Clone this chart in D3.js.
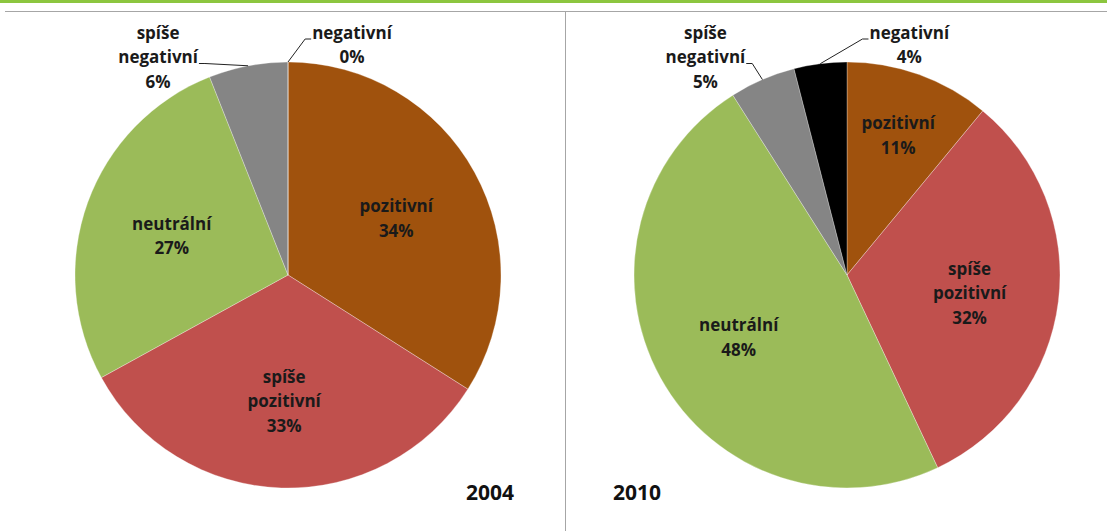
<!DOCTYPE html>
<html>
<head>
<meta charset="utf-8">
<script src="https://cdn.jsdelivr.net/npm/d3@7"></script>
<style>
  body { margin: 0; background: #fff; }
  svg { display: block; }
  .lbl { font-family: "Open Sans", Lato, sans-serif; font-weight: bold; font-size: 17px; fill: #1a1a1a; }
  .year { font-family: "Open Sans", Lato, sans-serif; font-weight: bold; font-size: 21px; fill: #111; }
</style>
</head>
<body>
<svg id="chart"></svg>
<script>
// data
let categories = ['pozitivní', 'spíše pozitivní', 'neutrální', 'spíše negativní', 'negativní'];
let values2004 = [34, 33, 27, 6, 0];
let values2010 = [11, 32, 48, 5, 4];
let years = ['2004', '2010'];

function makeChart() {
	let w = 1107;
	let h = 531;

	let color = d3.scaleOrdinal()
		.domain(categories)
		.range(['#a0520d', '#c0504d', '#9bbb59', '#858585', '#000000']);

	let chart = d3.select('#chart')
		.attr('width', w)
		.attr('height', h);

	// frame lines
	chart.append('rect').attr('x', 0).attr('y', 0).attr('width', w).attr('height', 3).style('fill', '#8cc63f');
	chart.append('line').attr('x1', 5).attr('x2', w).attr('y1', 11.5).attr('y2', 11.5).style('stroke', '#a6a6a6');
	chart.append('line').attr('x1', 565.5).attr('x2', 565.5).attr('y1', 11).attr('y2', h).style('stroke', '#a6a6a6');

	let r = 213;
	let lh = 24.5;
	let pie = d3.pie().sort(null).value(d => d.v);
	let arc = d3.arc().innerRadius(0).outerRadius(r);

	// outside labels for the small slices: horizontal offset of the text block from the slice edge
	let pies = [
		{ values: values2004, cx: 288, cy: 275, year: years[0], yx: 490,
		  outside: { 3: -90, 4: 64 } },
		{ values: values2010, cx: 847, cy: 275, year: years[1], yx: 637,
		  outside: { 3: -57, 4: 89 } }
	];

	pies.forEach(p => {
		let g = chart.append('g').attr('transform', `translate(${p.cx},${p.cy})`);
		let arcs = pie(categories.map((c, i) => ({ name: c, v: p.values[i] + 0.0001 })));

		g.selectAll('path')
			.data(arcs)
			.enter()
			.append('path')
			.attr('d', arc)
			.style('fill', d => color(d.data.name))
			.style('stroke', '#ffffff')
			.style('stroke-width', 0.3);

		arcs.forEach((d, i) => {
			let val = p.values[i];
			let lines = d.data.name.split(' ');
			lines.push(val + '%');
			let x, y;
			let o = p.outside[i];
			if (o !== undefined) {
				let mid = (d.startAngle + d.endAngle) / 2;
				x = Math.sin(mid) * r + o;
				y = 33 - p.cy;
			} else {
				let lr = val < 15 ? r * 0.71 : r * 0.58;
				let c = d3.arc().innerRadius(lr).outerRadius(lr).centroid(d);
				x = c[0];
				y = c[1] - (lines.length - 1) * lh / 2 + 3;
			}
			let t = g.append('text').classed('lbl', true)
				.attr('text-anchor', 'middle');
			let spans = lines.map((s, k) =>
				t.append('tspan').attr('x', x).attr('y', y + k * lh).attr('dy', '0.35em').text(s));

			if (o !== undefined) {
				let mid = (d.startAngle + d.endAngle) / 2;
				let ex = Math.sin(mid) * r;
				let ey = -Math.cos(mid) * r;
				// leader line from the "negativní" row to the slice edge
				let row = spans.length === 3 ? 1 : 0;
				let half = spans[row].node().getComputedTextLength() / 2;
				let ly = y + row * lh + 6;
				let pts;
				if (o < 0) {
					let tx = x + half + 1;
					pts = [[tx, ly], [tx + 6, ly], [ex, ey]];
				} else {
					let tx = x - half - 1;
					pts = [[tx, ly], [tx - 6, ly], [ex, ey]];
				}
				g.append('polyline')
					.attr('points', pts.map(q => q.join(',')).join(' '))
					.style('fill', 'none').style('stroke', '#222').style('stroke-width', 1);
			}
		});

		chart.append('text').classed('year', true)
			.attr('x', p.yx).attr('y', 500)
			.attr('text-anchor', 'middle')
			.text(p.year);
	});
}

window.onload = function () {
	makeChart();
}
</script>
</body>
</html>
